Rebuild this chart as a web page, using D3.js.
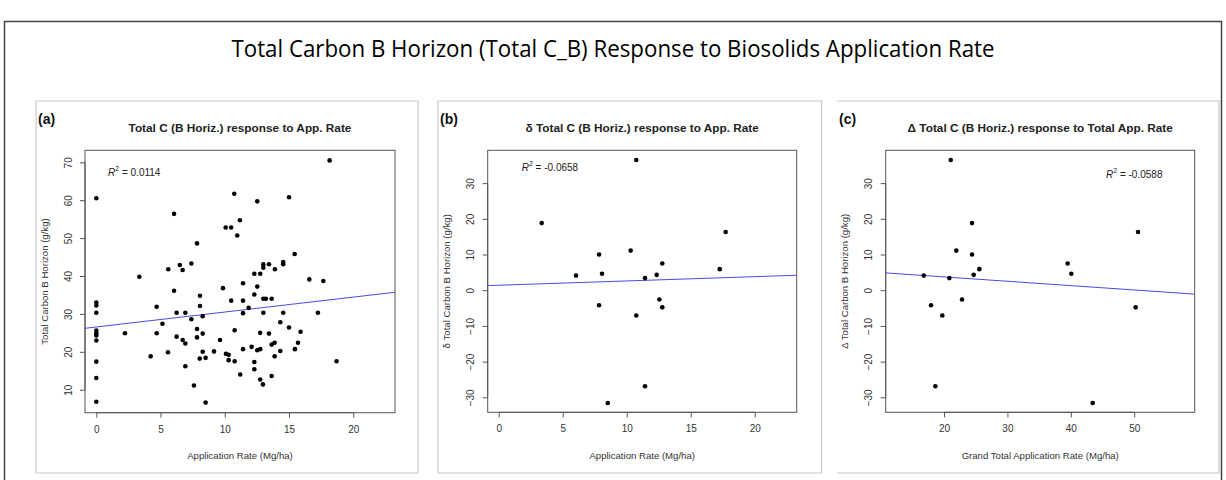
<!DOCTYPE html>
<html>
<head>
<meta charset="utf-8">
<script src="https://cdn.jsdelivr.net/npm/d3@7"></script>
<style>
  body { margin: 0; background: #fff; }
  text { font-family: "Liberation Sans", Arial, sans-serif; }
</style>
</head>
<body>
<div class="chart"></div>
<script>
// ---- data ----
const appRateA = [
  0, 0, 0, 0, 0, 0, 0, 0, 0, 0, 0,
  2.23, 3.35, 4.23, 4.7, 4.7, 5.15, 5.58, 5.6, 6.05, 6.05, 6.25, 6.25, 6.5, 6.72, 6.72,
  6.93, 6.93, 6.93, 7.4, 7.4, 7.6, 7.84, 7.84, 7.84, 8.07, 8.07, 8.05, 8.28, 8.28, 8.28,
  8.51, 8.51, 9.16, 9.63, 9.86, 10.07, 10.09, 10.3, 10.3, 10.5, 10.5, 10.74, 10.77, 10.77,
  10.97, 11.18, 11.2, 11.42, 11.42, 11.42, 11.42, 11.86, 12.09, 12.3, 12.3, 12.3, 12.3,
  12.53, 12.53, 12.53, 12.76, 12.76, 12.76, 12.76, 12.97, 13.0, 13.0, 13.0, 13.0, 13.2,
  13.44, 13.44, 13.65, 13.65, 13.65, 13.88, 13.88, 13.9, 14.32, 14.32, 14.55, 14.55, 14.55,
  15.0, 15.0, 15.44, 15.46, 15.7, 15.9, 16.58, 17.25, 17.67, 18.16, 18.7
];
const totalCA = [
  60.5, 33.0, 32.2, 30.3, 25.6, 24.9, 24.3, 23.0, 17.4, 13.1, 6.8,
  24.9, 39.8, 18.8, 31.9, 24.9, 27.4, 19.9, 41.8, 56.4, 36.1, 30.3, 24.0, 42.9, 41.6, 23.1,
  30.3, 22.2, 16.2, 43.3, 28.6, 11.1, 48.6, 26.0, 23.8, 34.8, 32.1, 18.2, 29.4, 24.8, 20.0,
  18.4, 6.6, 20.1, 23.1, 36.8, 52.8, 19.5, 19.2, 17.8, 52.8, 33.5, 61.7, 25.7, 17.5,
  50.7, 54.7, 14.0, 38.1, 33.5, 30.2, 20.7, 31.6, 21.3, 40.6, 35.1, 17.3, 15.4,
  59.7, 37.2, 20.4, 40.6, 25.0, 20.7, 12.7, 11.4, 43.1, 42.2, 34.0, 30.3, 34.0,
  43.1, 24.8, 34.0, 21.9, 13.6, 22.4, 18.8, 41.8, 27.8, 20.2, 43.7, 43.1, 30.3,
  60.8, 26.4, 45.8, 20.7, 22.4, 25.3, 39.1, 30.3, 38.7, 70.5, 17.5
];

const appRateB = [10.75, 3.36, 17.73, 10.31, 7.84, 12.78, 17.27, 6.04, 8.07, 11.43, 12.34,
  7.84, 12.55, 12.78, 10.75, 11.43, 8.52];
const deltaCB = [36.5, 18.8, 16.3, 11.1, 10.0, 7.5, 5.9, 4.1, 4.6, 3.4, 4.3,
  -4.2, -2.6, -4.8, -7.1, -26.9, -31.6];

const grandRateC = [21.06, 24.42, 50.6, 21.94, 24.42, 39.5, 25.57, 40.08, 24.68, 16.8, 20.84,
  17.95, 22.84, 50.23, 19.73, 18.63, 43.45];
const deltaCC = [36.5, 18.8, 16.3, 11.1, 10.0, 7.5, 5.9, 4.6, 4.3, 4.1, 3.4,
  -4.2, -2.6, -4.8, -7.1, -26.9, -31.6];

// regression lines: [intercept, slope]
const fitA = [26.55, 0.394];
const fitB = [1.4, 0.12];
const fitC = [6.17, -0.122];

const r2Labels = ["0.0114", "-0.0658", "-0.0588"];

const xTicksA = [0, 5, 10, 15, 20];
const yTicksA = [10, 20, 30, 40, 50, 60, 70];
const xTicksB = [0, 5, 10, 15, 20];
const yTicksB = [-30, -20, -10, 0, 10, 20, 30];
const xTicksC = [20, 30, 40, 50];
const yTicksC = [-30, -20, -10, 0, 10, 20, 30];

const mainTitle = "Total Carbon B Horizon (Total C_B) Response to Biosolids Application Rate";

// ---- layout ----
const width = 1226;
const height = 480;

const panels = [
  {
    tag: "(a)", title: "Total C (B Horiz.) response to App. Rate",
    xLabel: "Application Rate (Mg/ha)", yLabel: "Total Carbon B Horizon (g/kg)",
    xs: appRateA, ys: totalCA, fit: fitA, r2: r2Labels[0],
    xTicks: xTicksA, yTicks: yTicksA,
    xDomain: [-0.88, 23.25], yDomain: [3.93, 73.17],
    box: { x0: 36, y0: 101, x1: 418, y1: 473, left: true },
    plot: { x0: 85, y0: 150.3, x1: 395, y1: 412.7 },
    r2Pos: [108, 171.7],
  },
  {
    tag: "(b)", title: "δ Total C (B Horiz.) response to App. Rate",
    xLabel: "Application Rate (Mg/ha)", yLabel: "δ Total Carbon B Horizon (g/kg)",
    xs: appRateB, ys: deltaCB, fit: fitB, r2: r2Labels[1],
    xTicks: xTicksB, yTicks: yTicksB,
    xDomain: [-0.86, 23.28], yDomain: [-34.2, 39.2],
    box: { x0: 438, y0: 101, x1: 821.5, y1: 473, left: true },
    plot: { x0: 487.7, y0: 150.3, x1: 796.7, y1: 412.3 },
    r2Pos: [521.7, 166.7],
  },
  {
    tag: "(c)", title: "Δ Total C (B Horiz.) response to Total App. Rate",
    xLabel: "Grand Total Application Rate (Mg/ha)", yLabel: "Δ Total Carbon B Horizon (g/kg)",
    xs: grandRateC, ys: deltaCC, fit: fitC, r2: r2Labels[2],
    xTicks: xTicksC, yTicks: yTicksC,
    xDomain: [10.8, 59.54], yDomain: [-34.2, 39.2],
    box: { x0: 837, y0: 101, x1: 1219, y1: 473, left: false },
    plot: { x0: 885.7, y0: 150.3, x1: 1194.7, y1: 412.3 },
    r2Pos: [1106, 174.3],
  },
];

const svg = d3
  .select(".chart")
  .append("svg")
  .attr("width", width)
  .attr("height", height);

svg.append("rect").attr("width", width).attr("height", height).attr("fill", "#fff");

// outer frame (cut at the bottom of the picture)
svg
  .append("path")
  .attr("d", `M4.5,${height} V21.5 H1221.5 V${height}`)
  .attr("fill", "none")
  .attr("stroke", "#444")
  .attr("stroke-width", 1.5);

// condensed look of the original title font
svg
  .append("text")
  .attr("x", width / 2)
  .attr("y", 48)
  .attr("text-anchor", "middle")
  .attr("dominant-baseline", "central")
  .style("font-family", "'Open Sans', sans-serif")
  .attr("font-size", 23)
  .attr("textLength", 763)
  .attr("lengthAdjust", "spacingAndGlyphs")
  .attr("fill", "#000")
  .text(mainTitle);

panels.forEach((p) => {
  const g = svg.append("g");
  const b = p.box;

  // panel border
  const borderPath = b.left
    ? `M${b.x0},${b.y0} H${b.x1} V${b.y1} H${b.x0} Z`
    : `M${b.x0},${b.y0} H${b.x1} V${b.y1} H${b.x0}`;
  g.append("path")
    .attr("d", borderPath)
    .attr("fill", "none")
    .attr("stroke", "#c8c8c8")
    .attr("stroke-width", 1.2);

  const x = d3.scaleLinear().domain(p.xDomain).range([p.plot.x0, p.plot.x1]);
  const y = d3.scaleLinear().domain(p.yDomain).range([p.plot.y1, p.plot.y0]);

  // panel tag and title
  g.append("text")
    .attr("x", b.x0 + 2)
    .attr("y", 119)
    .attr("dominant-baseline", "central")
    .attr("font-weight", "bold")
    .attr("font-size", 14)
    .attr("fill", "#111")
    .text(p.tag);

  g.append("text")
    .attr("x", (p.plot.x0 + p.plot.x1) / 2)
    .attr("y", 127.7)
    .attr("text-anchor", "middle")
    .attr("dominant-baseline", "central")
    .attr("font-weight", "bold")
    .attr("font-size", 11.8)
    .attr("fill", "#222")
    .text(p.title);

  // plot box
  g.append("rect")
    .attr("x", p.plot.x0)
    .attr("y", p.plot.y0)
    .attr("width", p.plot.x1 - p.plot.x0)
    .attr("height", p.plot.y1 - p.plot.y0)
    .attr("fill", "none")
    .attr("stroke", "#555")
    .attr("stroke-width", 1);

  // x axis, R style: line only over the tick range
  const xAxis = g
    .append("g")
    .attr("transform", `translate(0, ${p.plot.y1})`)
    .call(d3.axisBottom(x).tickValues(p.xTicks).tickSize(5).tickPadding(8).tickFormat(d3.format("d")));
  xAxis.select(".domain").remove();
  xAxis.selectAll("line").attr("stroke", "#555");
  xAxis.selectAll("text").attr("font-size", 10).attr("fill", "#333").attr("font-family", "'Liberation Sans', Arial, sans-serif");
  xAxis
    .append("line")
    .attr("x1", x(p.xTicks[0]))
    .attr("x2", x(p.xTicks[p.xTicks.length - 1]))
    .attr("stroke", "#555");

  // y axis with labels turned parallel to the axis
  const yAxis = g
    .append("g")
    .attr("transform", `translate(${p.plot.x0}, 0)`)
    .call(d3.axisLeft(y).tickValues(p.yTicks).tickSize(5).tickFormat(d3.format("d")));
  yAxis.select(".domain").remove();
  yAxis.selectAll("line").attr("stroke", "#555");
  yAxis
    .selectAll("text")
    .attr("font-size", 10)
    .attr("fill", "#333")
    .attr("font-family", "'Liberation Sans', Arial, sans-serif")
    .attr("text-anchor", "middle")
    .attr("x", null)
    .attr("dy", null)
    .attr("dominant-baseline", "central")
    .attr("transform", "translate(-17, 0) rotate(-90)");
  yAxis
    .append("line")
    .attr("y1", y(p.yTicks[0]))
    .attr("y2", y(p.yTicks[p.yTicks.length - 1]))
    .attr("stroke", "#555");

  // axis titles
  g.append("text")
    .attr("x", (p.plot.x0 + p.plot.x1) / 2)
    .attr("y", 455.7)
    .attr("text-anchor", "middle")
    .attr("dominant-baseline", "central")
    .attr("font-size", 9.6)
    .attr("fill", "#333")
    .text(p.xLabel);

  g.append("text")
    .attr("transform", `translate(${p.plot.x0 - 41}, ${(p.plot.y0 + p.plot.y1) / 2}) rotate(-90)`)
    .attr("text-anchor", "middle")
    .attr("dominant-baseline", "central")
    .attr("font-size", 9.6)
    .attr("fill", "#333")
    .text(p.yLabel);

  // regression line across the whole plot region
  const clipId = `clip-${p.tag.replace(/\W/g, "")}`;
  g.append("clipPath")
    .attr("id", clipId)
    .append("rect")
    .attr("x", p.plot.x0)
    .attr("y", p.plot.y0)
    .attr("width", p.plot.x1 - p.plot.x0)
    .attr("height", p.plot.y1 - p.plot.y0);

  const [a0, a1] = p.fit;
  g.append("line")
    .attr("clip-path", `url(#${clipId})`)
    .attr("x1", x(p.xDomain[0]))
    .attr("y1", y(a0 + a1 * p.xDomain[0]))
    .attr("x2", x(p.xDomain[1]))
    .attr("y2", y(a0 + a1 * p.xDomain[1]))
    .attr("stroke", "#4b4be0")
    .attr("stroke-width", 1);

  // points
  g.selectAll("circle.pt")
    .data(p.xs.map((v, i) => [v, p.ys[i]]))
    .enter()
    .append("circle")
    .attr("class", "pt")
    .attr("cx", (d) => x(d[0]))
    .attr("cy", (d) => y(d[1]))
    .attr("r", 2.3)
    .attr("fill", "#000");

  // R squared label
  const r2 = g
    .append("text")
    .attr("x", p.r2Pos[0])
    .attr("y", p.r2Pos[1])
    .attr("dominant-baseline", "central")
    .attr("font-size", 10)
    .attr("fill", "#222");
  r2.append("tspan").attr("font-style", "italic").text("R");
  r2.append("tspan").attr("font-size", 7).attr("dy", -4).text("2");
  r2.append("tspan").attr("dy", 4).text(` = ${p.r2}`);
});
</script>
</body>
</html>
